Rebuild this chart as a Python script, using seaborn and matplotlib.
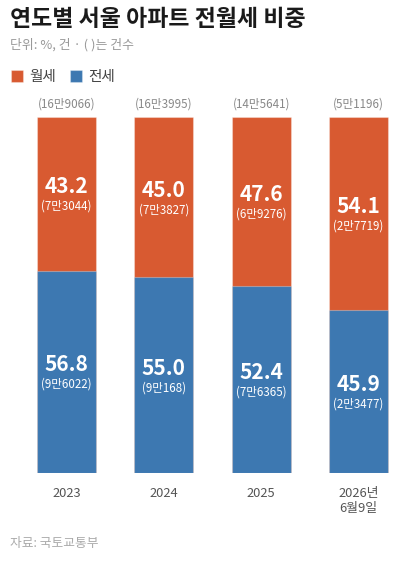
import matplotlib
matplotlib.use("Agg")
import matplotlib.pyplot as plt
import seaborn as sns
import pandas as pd
import numpy as np

years = ["2023", "2024", "2025", "2026년\n6월9일"]
wolse = [43.2, 45.0, 47.6, 54.1]          # 월세 share (%)
jeonse = [56.8, 55.0, 52.4, 45.9]         # 전세 share (%)
wolse_cnt = ["(7만3044)", "(7만3827)", "(6만9276)", "(2만7719)"]
jeonse_cnt = ["(9만6022)", "(9만168)", "(7만6365)", "(2만3477)"]
total_cnt = ["(16만9066)", "(16만3995)", "(14만5641)", "(5만1196)"]

ORANGE = "#D85A31"
BLUE = "#3D78B1"

sns.set_theme(style="white")
plt.rcParams["font.family"] = ["Noto Sans CJK KR", "DejaVu Sans"]

df = pd.DataFrame({"year": years, "wolse": wolse, "jeonse": jeonse})
df["total"] = df["wolse"] + df["jeonse"]

fig = plt.figure(figsize=(4.19, 5.68), dpi=100)
H = 568.0
W = 419.0
ax = fig.add_axes([18 / W, (H - 473) / H, 389 / W, 356 / H])

edge = (1, 1, 1, 0.3)
sns.barplot(data=df, x="year", y="total", color=ORANGE, saturation=1,
            width=0.606, ax=ax, label="월세", edgecolor=edge, linewidth=0.8)
sns.barplot(data=df, x="year", y="jeonse", color=BLUE, saturation=1,
            width=0.606, ax=ax, label="전세", edgecolor=edge, linewidth=0.8)

ax.set_xlim(-0.5, 3.5)
ax.set_ylim(0, 100)
ax.set_yticks([])
ax.set_xlabel("")
ax.set_ylabel("")
for s in ax.spines.values():
    s.set_visible(False)
ax.tick_params(axis="x", length=0, pad=10, labelsize=9.3, labelcolor="#555555")
for t in ax.get_xticklabels():
    t.set_linespacing(1.2)

for i in range(len(years)):
    top = jeonse[i] + wolse[i]
    c = jeonse[i] + wolse[i] / 2
    ax.annotate(f"{wolse[i]:.1f}", (i, c), xytext=(0, 5), textcoords="offset points",
                ha="center", va="center", color="white", fontsize=15, fontweight="bold")
    ax.annotate(wolse_cnt[i], (i, c), xytext=(0, -9), textcoords="offset points",
                ha="center", va="center", color="white", fontsize=8.3, fontweight="medium")
    c2 = jeonse[i] / 2
    ax.annotate(f"{jeonse[i]:.1f}", (i, c2), xytext=(0, 5), textcoords="offset points",
                ha="center", va="center", color="white", fontsize=15, fontweight="bold")
    ax.annotate(jeonse_cnt[i], (i, c2), xytext=(0, -9), textcoords="offset points",
                ha="center", va="center", color="white", fontsize=8.3, fontweight="medium")
    ax.annotate(total_cnt[i], (i, top), xytext=(0, 9), textcoords="offset points",
                ha="center", va="center", color="#888888", fontsize=8.4, fontweight="medium")

fig.text(10 / W, 1 - 20 / H, "연도별 서울 아파트 전월세 비중", fontsize=16.5,
         fontweight="bold", color="#1a1a1a", ha="left", va="center")
fig.text(10 / W, 1 - 45 / H, "단위: %, 건 · ( )는 건수", fontsize=9.3,
         color="#999999", ha="left", va="center")
fig.text(10 / W, 1 - 543 / H, "자료: 국토교통부", fontsize=9.2,
         color="#aaaaaa", ha="left", va="center")

leg = ax.legend(loc="center left", bbox_to_anchor=(5 / W, 1 - 77 / H),
                bbox_transform=fig.transFigure, ncol=2, frameon=False,
                fontsize=10.5, handlelength=0.8, handleheight=0.8,
                handletextpad=0.45, columnspacing=1.0, borderaxespad=0,
                labelcolor="#444444")

fig.savefig("out.png", dpi=100, facecolor="white")
